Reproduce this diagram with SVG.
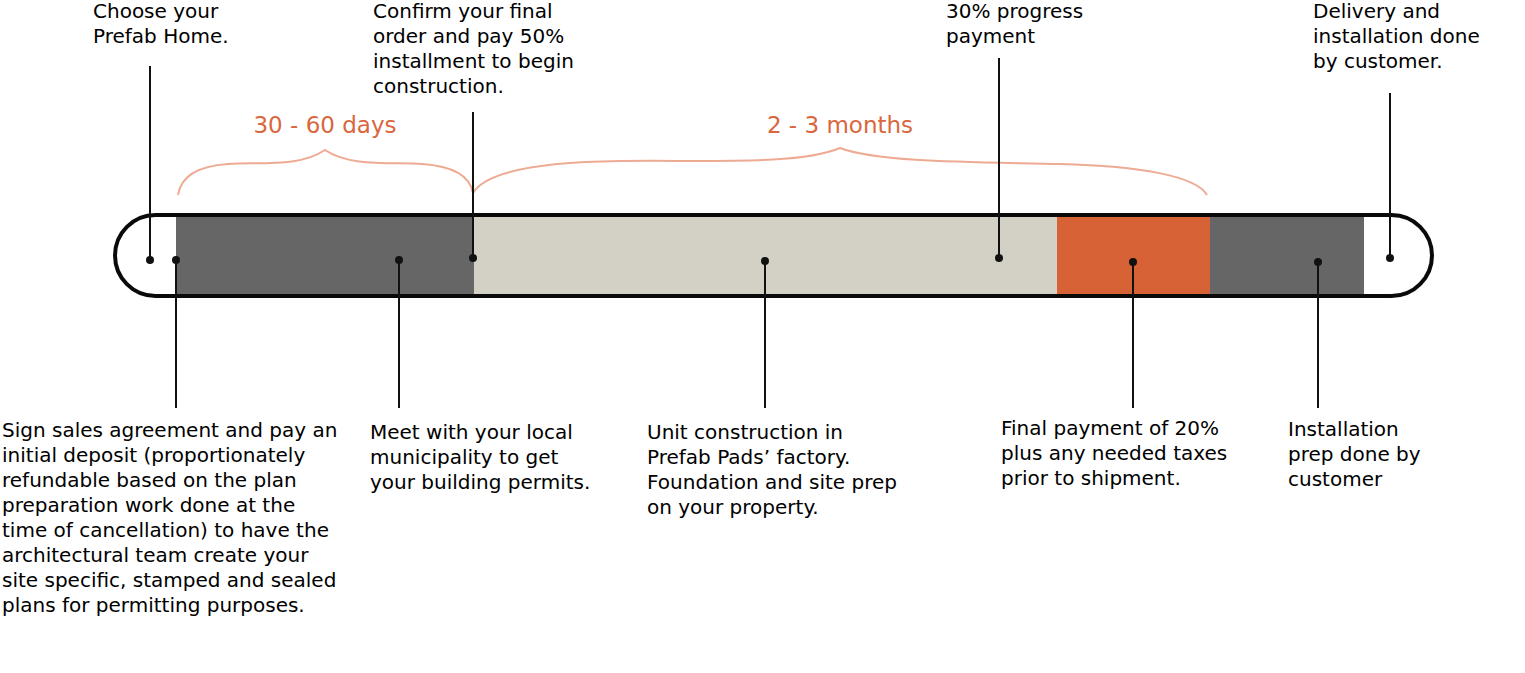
<svg xmlns="http://www.w3.org/2000/svg" width="1525" height="673" viewBox="0 0 1525 673">
<style>
.t{font-family:"DejaVu Sans","Liberation Sans",sans-serif;font-size:20px;fill:#000}
.o{font-family:"DejaVu Sans","Liberation Sans",sans-serif;font-size:23px;fill:#D9663C}
.ln{stroke:#111;stroke-width:2;fill:none}
.br{stroke:#EEAB94;stroke-width:2;fill:none}
.dot{fill:#111}
</style>
<rect width="1525" height="673" fill="#fff"/>
<g id="bar">
<rect x="176" y="216" width="298" height="80" fill="#666666"/>
<rect x="474" y="216" width="583" height="80" fill="#D3D1C6"/>
<rect x="1057" y="216" width="153" height="80" fill="#D66236"/>
<rect x="1210" y="216" width="154" height="80" fill="#666666"/>
<rect x="115" y="215" width="1317" height="81" rx="40.5" ry="40.5" fill="none" stroke="#0a0a0a" stroke-width="4"/>
</g>
<g id="braces">
<path class="br" d="M178,195 C181,176 198,166 228,164 C262,162 300,167 325,150 C350,167 392,162 422,164 C452,166 470,176 473,193"/>
<path class="br" d="M473,193 C486,171 540,162 620,161 C710,160 800,165 840,148 C880,163 980,162 1060,164 C1140,166 1196,176 1207,195"/>
<text class="o" x="325" y="133" text-anchor="middle">30 - 60 days</text>
<text class="o" x="840" y="133" text-anchor="middle">2 - 3 months</text>
</g>
<g id="connectors">
<line class="ln" x1="150" y1="66" x2="150" y2="260"/>
<line class="ln" x1="176" y1="260" x2="176" y2="408"/>
<line class="ln" x1="399" y1="260" x2="399" y2="408"/>
<line class="ln" x1="473" y1="112" x2="473" y2="258"/>
<line class="ln" x1="765" y1="261" x2="765" y2="408"/>
<line class="ln" x1="999" y1="58" x2="999" y2="258"/>
<line class="ln" x1="1133" y1="262" x2="1133" y2="408"/>
<line class="ln" x1="1318" y1="262" x2="1318" y2="408"/>
<line class="ln" x1="1390" y1="93" x2="1390" y2="258"/>
<circle class="dot" cx="150" cy="260" r="4"/>
<circle class="dot" cx="176" cy="260" r="4"/>
<circle class="dot" cx="399" cy="260" r="4"/>
<circle class="dot" cx="473" cy="258" r="4"/>
<circle class="dot" cx="765" cy="261" r="4"/>
<circle class="dot" cx="999" cy="258" r="4"/>
<circle class="dot" cx="1133" cy="262" r="4"/>
<circle class="dot" cx="1318" cy="262" r="4"/>
<circle class="dot" cx="1390" cy="258" r="4"/>
</g>
<g id="n-choose">
<text class="t" x="93" y="18">Choose your</text>
<text class="t" x="93" y="43">Prefab Home.</text>
</g>
<g id="n-confirm">
<text class="t" x="373" y="18">Confirm your final</text>
<text class="t" x="373" y="43">order and pay 50%</text>
<text class="t" x="373" y="68">installment to begin</text>
<text class="t" x="373" y="93">construction.</text>
</g>
<g id="n-progress">
<text class="t" x="946" y="18">30% progress</text>
<text class="t" x="946" y="43">payment</text>
</g>
<g id="n-delivery">
<text class="t" x="1313" y="18">Delivery and</text>
<text class="t" x="1313" y="43">installation done</text>
<text class="t" x="1313" y="68">by customer.</text>
</g>
<g id="n-sign">
<text class="t" x="2" y="437">Sign sales agreement and pay an</text>
<text class="t" x="2" y="462">initial deposit (proportionately</text>
<text class="t" x="2" y="487">refundable based on the plan</text>
<text class="t" x="2" y="512">preparation work done at the</text>
<text class="t" x="2" y="537">time of cancellation) to have the</text>
<text class="t" x="2" y="562">architectural team create your</text>
<text class="t" x="2" y="587">site specific, stamped and sealed</text>
<text class="t" x="2" y="612">plans for permitting purposes.</text>
</g>
<g id="n-meet">
<text class="t" x="370" y="439">Meet with your local</text>
<text class="t" x="370" y="464">municipality to get</text>
<text class="t" x="370" y="489">your building permits.</text>
</g>
<g id="n-unit">
<text class="t" x="647" y="439">Unit construction in</text>
<text class="t" x="647" y="464">Prefab Pads’ factory.</text>
<text class="t" x="647" y="489">Foundation and site prep</text>
<text class="t" x="647" y="514">on your property.</text>
</g>
<g id="n-final">
<text class="t" x="1001" y="435">Final payment of 20%</text>
<text class="t" x="1001" y="460">plus any needed taxes</text>
<text class="t" x="1001" y="485">prior to shipment.</text>
</g>
<g id="n-install">
<text class="t" x="1288" y="436">Installation</text>
<text class="t" x="1288" y="461">prep done by</text>
<text class="t" x="1288" y="486">customer</text>
</g>
</svg>
